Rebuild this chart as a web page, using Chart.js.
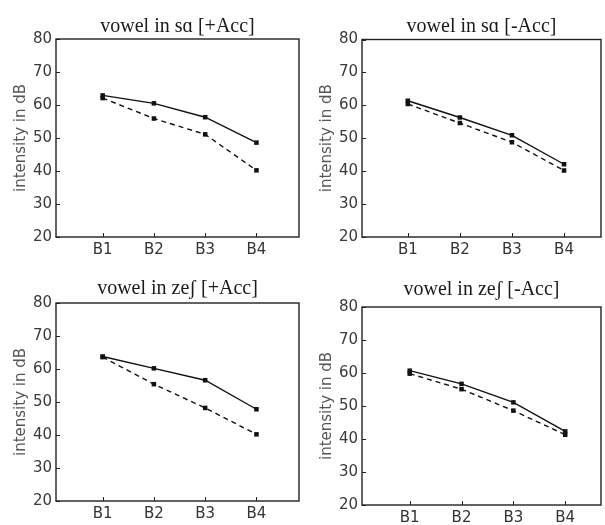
<!DOCTYPE html>
<html><head><meta charset="utf-8">
<script src="https://cdn.jsdelivr.net/npm/chart.js@4/dist/chart.umd.min.js"></script>
<style>
body{margin:0;background:#fff}
#wrap{position:relative;width:605px;height:525px;background:#fff;overflow:hidden}
canvas{position:absolute}
</style></head><body>
<div id="wrap">
<canvas id="c1" width="303" height="262" style="left:0;top:0"></canvas>
<canvas id="c2" width="299" height="262" style="left:306px;top:0"></canvas>
<canvas id="c3" width="303" height="261" style="left:0;top:264px"></canvas>
<canvas id="c4" width="299" height="261" style="left:306px;top:264px"></canvas>
</div>
<script>
// ---- data ----
const categories = ['B1', 'B2', 'B3', 'B4'];
const yTickValues = [20, 30, 40, 50, 60, 70, 80];
const titles = ['vowel in s\u0251 [+Acc]', 'vowel in s\u0251 [-Acc]', 'vowel in ze\u0283 [+Acc]', 'vowel in ze\u0283 [-Acc]'];
const yAxisLabel = 'intensity in dB';

const saPlusSolid   = [62.9, 60.5, 56.3, 48.6];
const saPlusDashed  = [62.1, 55.9, 51.1, 40.2];
const saMinusSolid  = [61.4, 56.3, 50.9, 42.1];
const saMinusDashed = [60.4, 54.6, 48.8, 40.2];
const zePlusSolid   = [63.8, 60.2, 56.6, 47.8];
const zePlusDashed  = [63.6, 55.4, 48.2, 40.2];
const zeMinusSolid  = [60.7, 56.7, 51.1, 42.3];
const zeMinusDashed = [59.8, 55.1, 48.6, 41.3];

// ---- rendering ----
Chart.defaults.font.family = 'DejaVu Sans';
Chart.defaults.animation = false;

const frame = {
  id: 'frame',
  afterDraw(chart) {
    const {ctx, chartArea: a, scales: {x, y}} = chart;
    ctx.save();
    ctx.strokeStyle = '#222';
    ctx.lineWidth = 1.4;
    ctx.strokeRect(a.left, a.top, a.right - a.left, a.bottom - a.top);
    ctx.lineWidth = 1;
    ctx.beginPath();
    y.ticks.forEach(t => {
      const py = Math.round(y.getPixelForValue(t.value)) + 0.5;
      ctx.moveTo(a.left, py); ctx.lineTo(a.left + 4, py);
    });
    x.ticks.forEach(t => {
      const px = Math.round(x.getPixelForValue(t.value)) + 0.5;
      ctx.moveTo(px, a.bottom); ctx.lineTo(px, a.bottom - 4);
    });
    ctx.stroke();
    ctx.restore();
  }
};

function pts(arr) { return arr.map((v, i) => ({x: i + 1, y: v})); }

function makeChart(id, title, solid, dashed, xr, ybox, titleGap) {
  const fontSize = 20, lh = fontSize * 1.2;
  const padBottom = titleGap - lh / 2;
  const padTop = ybox.top - lh - padBottom;
  const ds = (data, dash) => ({
    data: pts(data),
    borderColor: '#111',
    backgroundColor: '#111',
    borderWidth: 1.4,
    borderDash: dash,
    pointStyle: 'rect',
    pointRadius: 3.2,
    pointBorderWidth: 0,
    tension: 0
  });
  new Chart(document.getElementById(id), {
    type: 'line',
    data: { datasets: [ds(solid, []), ds(dashed, [5, 4])] },
    options: {
      responsive: false,
      layout: { padding: { left: 0, right: ybox.right, top: 0, bottom: 0 } },
      plugins: {
        legend: { display: false },
        tooltip: { enabled: false },
        title: {
          display: true, text: title, fullSize: false,
          color: '#1a1a1a',
          font: { family: 'Liberation Serif', size: fontSize, weight: 'normal', lineHeight: 1.2 },
          padding: { top: padTop, bottom: padBottom }
        }
      },
      scales: {
        x: {
          type: 'linear', min: xr[0], max: xr[1],
          grid: { display: false, drawTicks: false },
          border: { display: false },
          afterBuildTicks(s) { s.ticks = categories.map((_, i) => ({ value: i + 1 })); },
          afterFit(s) { s.height = ybox.xh; },
          ticks: {
            autoSkip: false, maxRotation: 0, padding: 4, color: '#333',
            font: { size: 15 },
            callback: (v) => categories[Math.round(v) - 1]
          }
        },
        y: {
          min: 20, max: 80,
          grid: { display: false, drawTicks: false },
          border: { display: false },
          afterBuildTicks(s) { s.ticks = yTickValues.map(v => ({ value: v })); },
          afterFit(s) { s.width = 56; },
          ticks: { padding: 4, color: '#3a3a3a', font: { size: 15 } },
          title: {
            display: true, text: yAxisLabel, color: '#555',
            font: { size: 15 }, padding: { top: 12, bottom: 0 }
          }
        }
      }
    },
    plugins: [frame]
  });
}

makeChart('c1', titles[0], saPlusSolid,  saPlusDashed,  [0.09, 4.83], {top: 39, right: 2, xh: 25}, 12);
makeChart('c2', titles[1], saMinusSolid, saMinusDashed, [0.12, 4.71], {top: 39.5, right: 3, xh: 25}, 13);
makeChart('c3', titles[2], zePlusSolid,  zePlusDashed,  [0.09, 4.83], {top: 39, right: 2, xh: 24}, 14.7);
makeChart('c4', titles[3], zeMinusSolid, zeMinusDashed, [0.08, 4.69], {top: 43, right: 3, xh: 20}, 17.7);
</script>
</body></html>
